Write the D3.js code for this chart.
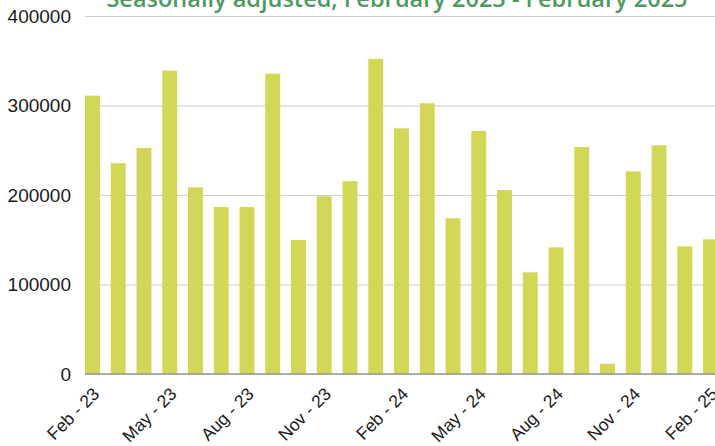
<!DOCTYPE html>
<html>
<head>
<meta charset="utf-8">
<script src="https://cdn.jsdelivr.net/npm/d3@7"></script>
<style>
  body { margin: 0; background: #fff; overflow: hidden; }
  .chart text { font-family: "Liberation Sans", Arial, sans-serif; fill: #1a1a1a; }
  .chart .title { font-family: "Open Sans", sans-serif; font-weight: 600; fill: #4c9a5e; }
</style>
</head>
<body>
<div class="chart"></div>
<script>
// Monthly values, Feb 2023 - Feb 2025 (seasonally adjusted)
var months = ["Feb - 23", "Mar - 23", "Apr - 23", "May - 23", "Jun - 23", "Jul - 23",
  "Aug - 23", "Sep - 23", "Oct - 23", "Nov - 23", "Dec - 23", "Jan - 24",
  "Feb - 24", "Mar - 24", "Apr - 24", "May - 24", "Jun - 24", "Jul - 24",
  "Aug - 24", "Sep - 24", "Oct - 24", "Nov - 24", "Dec - 24", "Jan - 25", "Feb - 25"];
var values = [311000, 235500, 252500, 339000, 208500, 186500,
  186500, 335500, 149700, 198500, 215500, 352000,
  274500, 302500, 174000, 271500, 205500, 113600,
  141500, 253600, 11500, 226400, 255500, 142600, 150500];
// Only every third month gets a label
var tickLabels = ["Feb - 23", "May - 23", "Aug - 23", "Nov - 23", "Feb - 24",
  "May - 24", "Aug - 24", "Nov - 24", "Feb - 25"];
var yTicks = [0, 100000, 200000, 300000, 400000];
var title = "Seasonally adjusted, February 2023 - February 2025";

drawChart();

function drawChart() {
  const width = 715, height = 446;
  const left = 85, top = 16, bottom = 374;

  var svg = d3.select('.chart')
              .append('svg')
              .attr('width', width)
              .attr('height', height);

  // Band scale runs a little past the right edge, the last bar gets clipped
  var x = d3.scaleBand()
            .domain(months)
            .range([left, 718])
            .paddingInner(0.42)
            .paddingOuter(0)
            .align(0);

  var y = d3.scaleLinear()
            .domain([0, 400000])
            .range([bottom, top]);

  // Gridlines + y labels
  var yAxis = d3.axisLeft(y)
                .tickValues(yTicks)
                .tickSize(-(width - left))
                .tickPadding(14)
                .tickFormat(d3.format('d'));

  var gy = svg.append('g')
              .attr('transform', 'translate(' + left + ',0)')
              .call(yAxis);
  gy.select('.domain').remove();
  gy.selectAll('.tick line').attr('stroke', '#cccccc').attr('stroke-width', 1);
  gy.selectAll('.tick text').style('font-size', '19px');

  svg.selectAll('.bar')
     .data(values)
     .enter()
     .append('rect')
     .classed('bar', true)
     .attr('x', function(d, i) { return x(months[i]); })
     .attr('y', function(d) { return y(d); })
     .attr('width', x.bandwidth())
     .attr('height', function(d) { return y(0) - y(d); })
     .attr('fill', '#d3d757');

  // Baseline
  svg.append('line')
     .attr('x1', left).attr('x2', width)
     .attr('y1', y(0)).attr('y2', y(0))
     .attr('stroke', '#999999')
     .attr('stroke-width', 1.5);

  // X labels, rotated
  var xAxis = d3.axisBottom(x)
                .tickValues(tickLabels)
                .tickSize(0)
                .tickPadding(0);

  var gx = svg.append('g')
              .attr('transform', 'translate(0,' + bottom + ')')
              .call(xAxis);
  gx.select('.domain').remove();
  gx.selectAll('.tick text')
    .style('font-size', '17.5px')
    .attr('text-anchor', 'end')
    .attr('dy', null)
    .attr('y', 0)
    .attr('transform', 'translate(8,21) rotate(-45)');

  // Title, mostly above the top of the picture
  svg.append('text')
     .classed('title', true)
     .attr('x', 397)
     .attr('y', 6.5)
     .attr('text-anchor', 'middle')
     .style('font-size', '23.5px')
     .text(title);
}
</script>
</body>
</html>
